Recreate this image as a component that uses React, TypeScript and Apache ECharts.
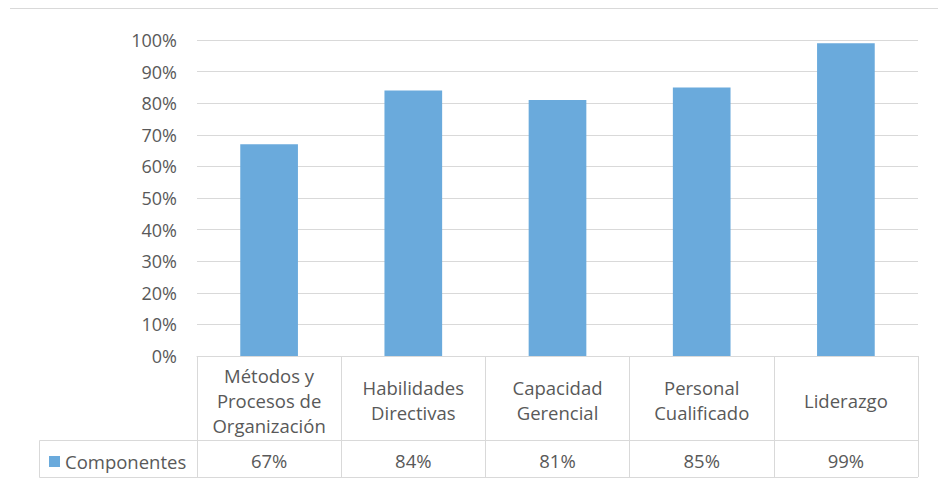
import React, { useEffect, useRef } from "react";
import * as echarts from "echarts";

const categories = [
  "Métodos y\nProcesos de\nOrganización",
  "Habilidades\nDirectivas",
  "Capacidad\nGerencial",
  "Personal\nCualificado",
  "Liderazgo",
];
const seriesName = "Componentes";
const values = [67, 84, 81, 85, 99];

const FONT = "Open Sans";
const GRAY = "#595959";
const LINE = "#D9D9D9";
const BAR = "#6AAADC";

export default function App() {
  const ref = useRef<HTMLDivElement>(null);
  useEffect(() => {
    document.body.style.margin = "0";
    const chart = echarts.init(ref.current!, null, { renderer: "svg" });
    chart.setOption({
      animation: false,
      textStyle: { fontFamily: FONT },
      grid: { left: 197, right: 20, top: 40, bottom: 130, containLabel: false },
      legend: {
        data: [seriesName],
        left: 44,
        top: 447,
        icon: "rect",
        itemWidth: 11,
        itemHeight: 11,
        textStyle: { fontFamily: FONT, fontSize: 18.5, color: GRAY },
        selectedMode: false,
      },
      xAxis: [
        {
          type: "category",
          data: categories,
          axisLine: { show: true, lineStyle: { color: LINE, width: 1 } },
          axisTick: { show: true, length: 121, interval: 0, lineStyle: { color: LINE, width: 1 } },
          axisLabel: {
            interval: 0,
            margin: 44,
            verticalAlign: "middle",
            lineHeight: 25,
            fontSize: 18.5,
            color: GRAY,
            fontFamily: FONT,
          },
        },
        {
          type: "category",
          data: values.map((v) => v + "%"),
          position: "bottom",
          offset: 0,
          axisLine: { show: false },
          axisTick: { show: false },
          axisLabel: {
            interval: 0,
            margin: 104,
            verticalAlign: "middle",
            fontSize: 18.5,
            color: GRAY,
            fontFamily: FONT,
          },
        },
      ],
      yAxis: {
        type: "value",
        min: 0,
        max: 100,
        interval: 10,
        axisLine: { show: false },
        axisTick: { show: false },
        axisLabel: { formatter: "{value}%", margin: 20, fontSize: 18, color: GRAY, fontFamily: FONT },
        splitLine: { lineStyle: { color: LINE, width: 1 } },
      },
      series: [
        {
          name: seriesName,
          type: "bar",
          data: values,
          barWidth: "40%",
          itemStyle: { color: BAR },
        },
      ],
      graphic: [
        { type: "line", shape: { x1: 10, y1: 8.5, x2: 938, y2: 8.5 }, style: { stroke: LINE, lineWidth: 1 } },
        { type: "line", shape: { x1: 39.5, y1: 440.5, x2: 918, y2: 440.5 }, style: { stroke: LINE, lineWidth: 1 } },
        { type: "line", shape: { x1: 39.5, y1: 477.5, x2: 918, y2: 477.5 }, style: { stroke: LINE, lineWidth: 1 } },
        { type: "line", shape: { x1: 39.5, y1: 440.5, x2: 39.5, y2: 477.5 }, style: { stroke: LINE, lineWidth: 1 } },
      ],
    });
    return () => chart.dispose();
  }, []);
  return <div ref={ref} style={{ width: 938, height: 486 }} />;
}
